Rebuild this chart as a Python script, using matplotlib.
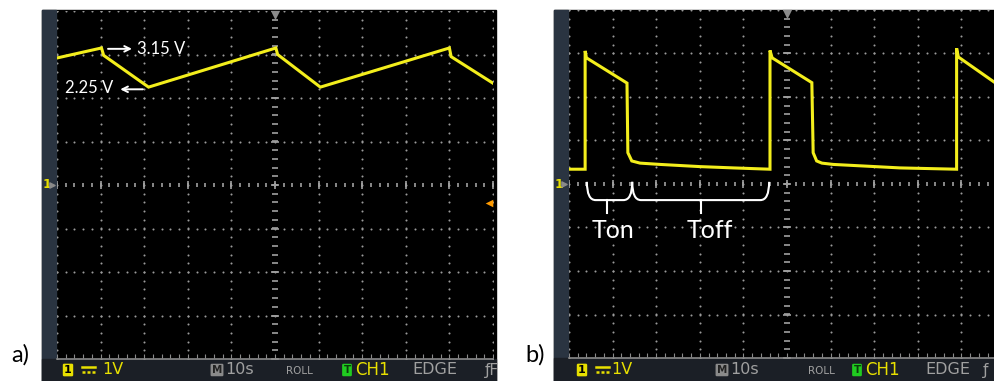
import matplotlib.pyplot as plt
import numpy as np
from matplotlib.patches import Rectangle, PathPatch
from matplotlib.path import Path

W, H = 995, 381

# trace a) : time in divisions, voltage in V (1 V/div)
a_t = [0.0, 1.02, 1.07, 2.10, 5.02, 5.06, 6.04, 9.00, 9.04, 10.0]
a_v = [2.92, 3.15, 2.98, 2.25, 3.15, 3.00, 2.25, 3.15, 2.95, 2.34]

# trace b)
b_t = [0.0, 0.37, 0.37, 0.40, 1.33, 1.35, 1.44, 1.63, 2.09, 3.00, 3.77,
       4.61, 4.61, 4.66, 5.57, 5.60, 5.68, 5.80, 6.06, 6.83, 7.59,
       8.89, 8.89, 8.93, 9.77]
b_v = [0.34, 0.34, 3.06, 2.90, 2.32, 0.72, 0.53, 0.48, 0.45, 0.40, 0.37,
       0.34, 3.07, 2.90, 2.33, 0.72, 0.53, 0.48, 0.45, 0.41, 0.37,
       0.34, 3.12, 2.92, 2.33]

status_labels = ['1V', '10s', 'ROLL', 'CH1', 'EDGE']

TRACE = '#f3ee1c'
GRID = '#9a9a9a'
TXT = 'Lato'

fig = plt.figure(figsize=(W / 100, H / 100), dpi=100, facecolor='white')
bg = fig.add_axes([0, 0, 1, 1])
bg.set_xlim(0, W)
bg.set_ylim(H, 0)
bg.axis('off')


def px_axes(x0, y0, x1, y1):
    return fig.add_axes([x0 / W, 1 - y1 / H, (x1 - x0) / W, (y1 - y0) / H])


def frame(L, R, grid_top, grid_bot):
    bg.add_patch(Rectangle((L, 10), R - L, H - 10, color='#000000', zorder=1))
    bg.add_patch(Rectangle((L, 10), 14, H - 10, color='#2a3441', zorder=2))
    bg.add_patch(Rectangle((L, grid_bot), R - L, H - grid_bot, color='#1b1f26', zorder=2))
    mid = (grid_top + grid_bot) / 2
    bg.text(L + 1, mid, '1', color='#e8e000', fontsize=9, fontweight='bold',
            ha='left', va='center', family='DejaVu Sans', zorder=3)
    bg.scatter([L + 10], [mid], marker='>', s=14, color='#8a8a8a', zorder=3)


def status(L, R, xs, last):
    clip = Rectangle((L, 0), R - L, H, transform=bg.transData)
    y = 370
    kw = dict(va='center', family='DejaVu Sans', zorder=4)
    bg.text(xs[0], y, '1', ha='center', color='black', fontsize=8, fontweight='bold',
            bbox=dict(boxstyle='round,pad=0.12', fc='#e8e000', ec='none'), **kw)
    bg.plot([xs[1], xs[1] + 13], [367, 367], color='#e8e000', lw=1.8, zorder=4)
    bg.plot([xs[1], xs[1] + 13], [371.5, 371.5], color='#e8e000', lw=1.8,
            ls=(0, (1.2, 0.8)), zorder=4)
    bg.text(xs[2], y, status_labels[0], ha='left', color='#e8e000', fontsize=11.5, **kw)
    bg.text(xs[3], y, 'M', ha='center', color='#222222', fontsize=7.5, fontweight='bold',
            bbox=dict(boxstyle='round,pad=0.12', fc='#8a8a8a', ec='none'), **kw)
    bg.text(xs[4], y, status_labels[1], ha='left', color='#a0a0a0', fontsize=11.5, **kw)
    bg.text(xs[5], y + 1, status_labels[2], ha='left', color='#a0a0a0', fontsize=7.5, **kw)
    bg.text(xs[6], y, 'T', ha='center', color='#0b3d0b', fontsize=7.5, fontweight='bold',
            bbox=dict(boxstyle='round,pad=0.12', fc='#20cc20', ec='none'), **kw)
    bg.text(xs[7], y, status_labels[3], ha='left', color='#e8e000', fontsize=12, **kw)
    bg.text(xs[8], y, status_labels[4], ha='left', color='#a0a0a0', fontsize=11.5, **kw)
    t = bg.text(xs[9], y, last, ha='left', color='#a0a0a0', fontsize=11, **kw)
    t.set_clip_path(clip)


def scope(ax, xmax):
    ax.set_xlim(0, xmax)
    ax.set_ylim(-4, 4)
    ax.axis('off')
    ax.patch.set_alpha(0)
    # dotted graticule
    ys = np.arange(-4, 4.01, 0.2)
    for gx in range(0, int(xmax) + 1):
        if gx == 5:
            continue
        ax.scatter(np.full(ys.size, gx), ys, s=2.2, color=GRID, lw=0, zorder=1)
    xs = np.arange(0, xmax + 0.01, 0.2)
    for gy in range(-3, 5):
        if gy == 0:
            continue
        ax.scatter(xs, np.full(xs.size, gy), s=2.2, color=GRID, lw=0, zorder=1)
    # centre axes with minor ticks
    ax.scatter(np.full(ys.size, 5), ys, marker='_', s=14, color='#a0a0a0', lw=1.2, zorder=1)
    ax.scatter(xs, np.zeros(xs.size), marker='|', s=12, color='#a0a0a0', lw=1.2, zorder=1)
    ax.scatter(np.arange(0, int(xmax) + 1), np.zeros(int(xmax) + 1), marker='|', s=40,
               color='#a0a0a0', lw=1.2, zorder=1)
    ax.scatter(np.full(9, 5), np.arange(-4, 5), marker='_', s=40, color='#a0a0a0', lw=1.2, zorder=1)
    # bottom edge
    ax.plot([0, xmax], [-4, -4], color='#8a8a8a', lw=1.2, zorder=1, clip_on=False)
    ax.scatter(xs, np.full(xs.size, -3.93), marker='|', s=6, color='#8a8a8a', lw=0.8, zorder=1)
    # trigger position marker
    ax.scatter([5], [3.9], marker='v', s=45, color='#8c8c8c', lw=0, zorder=2, clip_on=False)


arrow = dict(arrowstyle='->', color='white', lw=1.4, shrinkA=0, shrinkB=0)

# panel a
frame(42, 496, 11, 359)
status(42, 496, [68, 82, 102, 217, 225, 286, 347, 355, 412, 485], 'ƒF')
axa = px_axes(57, 11, 493, 359)
scope(axa, 10)
axa.plot(a_t, a_v, color=TRACE, lw=2.2, zorder=3, solid_joinstyle='miter')
axa.scatter([9.91], [-0.41], marker='<', s=30, color='#ff9a00', lw=0, zorder=3, clip_on=False)
axa.annotate('', xy=(1.72, 3.13), xytext=(1.17, 3.13), arrowprops=arrow, zorder=4)
axa.text(1.83, 3.12, '3.15 V', color='white', fontsize=12, family=TXT, va='center', ha='left')
axa.annotate('', xy=(1.45, 2.20), xytext=(1.97, 2.20), arrowprops=arrow, zorder=4)
axa.text(1.30, 2.22, '2.25 V', color='white', fontsize=12, family=TXT, va='center', ha='right')

# panel b
frame(554, 995, 10, 358)
status(554, 995, [582, 596, 611, 722, 730, 808, 857, 865, 925, 983], 'ƒ')
xmax_b = (995 - 569) / 43.6
axb = px_axes(569, 10, 995, 358)
scope(axb, xmax_b)
axb.plot(b_t, b_v, color=TRACE, lw=2.2, zorder=3, solid_joinstyle='miter')


def brace(ax, x0, x1, xm, ytop=0.05, ybot=-0.37, ytick=-0.66, dx=0.2):
    verts = [(x0, ytop), (x0, ybot), (x0 + dx, ybot), (x1 - dx, ybot), (x1, ybot), (x1, ytop)]
    codes = [Path.MOVETO, Path.CURVE3, Path.CURVE3, Path.LINETO, Path.CURVE3, Path.CURVE3]
    ax.add_patch(PathPatch(Path(verts, codes), fc='none', ec='white', lw=1.5, zorder=4))
    ax.plot([xm, xm], [ybot, ytick], color='white', lw=1.5, zorder=4)


brace(axb, 0.41, 1.45, 0.87)
brace(axb, 1.45, 4.59, 3.03)
axb.text(1.0, -1.08, 'Ton', color='white', fontsize=18, family=TXT, ha='center', va='center')
axb.text(3.23, -1.08, 'Toff', color='white', fontsize=18, family=TXT, ha='center', va='center')

fig.text(20 / W, 1 - 355 / H, 'a)', fontsize=17, family=TXT, ha='center', va='center')
fig.text(535 / W, 1 - 355 / H, 'b)', fontsize=17, family=TXT, ha='center', va='center')

fig.savefig('out.png', dpi=100, facecolor='white')
